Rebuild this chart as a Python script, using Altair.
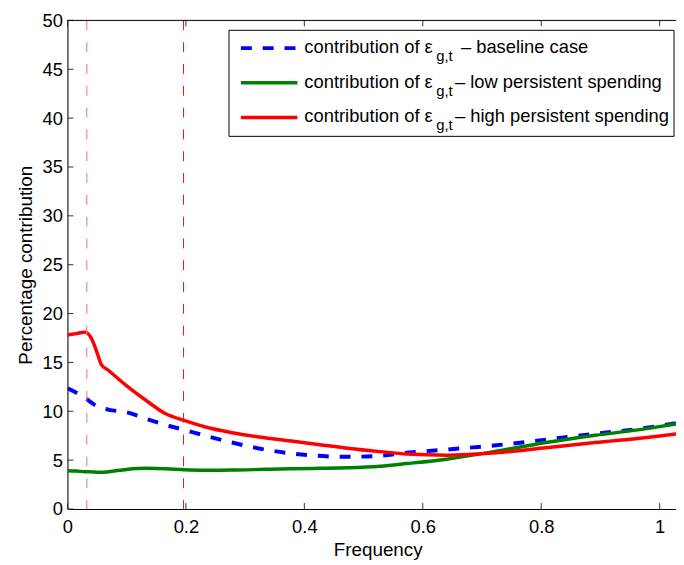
import altair as alt
import pandas as pd

# ---------------- data ----------------
freq = [0.0, 0.015, 0.03, 0.04, 0.05, 0.057, 0.07, 0.1, 0.133, 0.166, 0.197, 0.233,
        0.278, 0.333, 0.378, 0.423, 0.473, 0.528, 0.573, 0.64, 0.724, 0.808, 0.891,
        0.975, 1.031]
baseline_case = [12.35, 11.9, 11.35, 10.9, 10.5, 10.35, 10.15, 9.9, 9.23, 8.6, 8.1, 7.5,
                 6.8, 6.09, 5.68, 5.44, 5.34, 5.44, 5.75, 6.08, 6.52, 7.1, 7.7, 8.28, 8.82]
low_persistent = [3.92, 3.88, 3.82, 3.8, 3.77, 3.75, 3.82, 4.05, 4.16, 4.12, 4.02, 3.97,
                  3.98, 4.06, 4.12, 4.16, 4.22, 4.38, 4.65, 5.1, 5.91, 6.8, 7.54, 8.2, 8.72]
high_persistent = [17.8, 17.95, 18.1, 17.5, 16.0, 14.8, 14.15, 12.6, 11.1, 9.74, 9.06, 8.39,
                   7.81, 7.3, 6.95, 6.6, 6.22, 5.87, 5.62, 5.51, 5.75, 6.26, 6.8, 7.3, 7.7]

series_keys = ["baseline", "low", "high"]
legend_prefix = "contribution of ε"
legend_sub = "g,t"
legend_suffix = ["– baseline case", "– low persistent spending", "– high persistent spending"]

x_ticks = [0, 0.2, 0.4, 0.6, 0.8, 1.0]
y_ticks = [0, 5, 10, 15, 20, 25, 30, 35, 40, 45, 50]
v_lines = [0.0327, 0.196]

# ---------------- layout / style ----------------
W, H = 614, 493
XMAX = 1.0276
FONT = "Liberation Sans"
styles = {
    "baseline": dict(color="#0000ff", strokeWidth=4, strokeDash=[11, 11]),
    "low": dict(color="#008000", strokeWidth=3.5),
    "high": dict(color="#ff0000", strokeWidth=3.5),
}

xs = alt.Scale(domain=[0, XMAX], nice=False, zero=False)
ys = alt.Scale(domain=[0, 50], nice=False, zero=False)

x_axis = alt.Axis(values=x_ticks, format="~g", grid=False, ticks=False, tickSize=0,
                  labelPadding=24, labelBaseline="alphabetic", labelFontSize=18.5,
                  labelFont=FONT, labelColor="black", domainColor="black",
                  labelFlush=False, labelOverlap=False,
                  titleFont=FONT, titleFontSize=19, titleFontWeight="normal",
                  titleColor="black", titleBaseline="alphabetic",
                  titleY=47, titleX=313)
y_axis = alt.Axis(values=y_ticks, format="d", grid=False, ticks=False, tickSize=0,
                  labelPadding=5, labelBaseline="middle", labelFontSize=18.5,
                  labelFont=FONT, labelColor="black", domainColor="black",
                  labelFlush=False, labelOverlap=False,
                  titleFont=FONT, titleFontSize=19, titleFontWeight="normal",
                  titleColor="black", titleAngle=270, titleBaseline="alphabetic",
                  titleAlign="center", titleX=-36, titleY=H / 2)


def X(field):
    return alt.X(f"{field}:Q", scale=xs, axis=x_axis, title="Frequency")


def Y(field):
    return alt.Y(f"{field}:Q", scale=ys, axis=y_axis, title="Percentage contribution")


layers = []

# data lines
for key, vals in zip(series_keys, [baseline_case, low_persistent, high_persistent]):
    d = pd.DataFrame({"f": freq, "v": vals})
    layers.append(
        alt.Chart(d).mark_line(clip=True, interpolate="monotone", **styles[key]).encode(
            x=X("f"), y=Y("v"))
    )

# vertical dashed reference lines
vl_colors = ["#f07070", "#d81818"]
for i, f in enumerate(v_lines):
    layers.append(
        alt.Chart(pd.DataFrame({"f": [f]})).mark_rule(
            color=vl_colors[i], strokeWidth=1, strokeDash=[10, 12]
        ).encode(x=X("f"))
    )

# inward ticks and top frame
yt = pd.DataFrame({"v": y_ticks})
xt = pd.DataFrame({"f": x_ticks})
layers.append(alt.Chart(yt).mark_rule(color="#333", strokeWidth=1).encode(
    y=Y("v"), x=alt.value(0), x2=alt.value(6)))
layers.append(alt.Chart(xt).mark_rule(color="#333", strokeWidth=1).encode(
    x=X("f"), y=alt.value(H), y2=alt.value(H - 6)))
layers.append(alt.Chart(xt).mark_rule(color="#333", strokeWidth=1).encode(
    x=X("f"), y=alt.value(0), y2=alt.value(6)))
one = pd.DataFrame({"a": [0]})
layers.append(alt.Chart(one).mark_rule(color="black", strokeWidth=1).encode(
    x=alt.value(0), x2=alt.value(W), y=alt.value(0)))

# legend (drawn manually because of the subscript)
layers.append(alt.Chart(one).mark_rect(fill="white", stroke="black", strokeWidth=1).encode(
    x=alt.value(163), x2=alt.value(612), y=alt.value(10), y2=alt.value(117)))
row_y = [28, 63, 98]
suffix_x = [397, 391, 391]
for i, key in enumerate(series_keys):
    cy = row_y[i]
    layers.append(alt.Chart(one).mark_rule(**styles[key]).encode(
        x=alt.value(175), x2=alt.value(232), y=alt.value(cy)))
    layers.append(alt.Chart(one).mark_text(align="left", baseline="alphabetic", font=FONT,
                                           fontSize=18.5, color="black").encode(
        x=alt.value(239), y=alt.value(cy + 5), text=alt.value(legend_prefix)))
    layers.append(alt.Chart(one).mark_text(align="left", baseline="alphabetic", font=FONT,
                                           fontSize=15, color="black").encode(
        x=alt.value(372), y=alt.value(cy + 13), text=alt.value(legend_sub)))
    layers.append(alt.Chart(one).mark_text(align="left", baseline="alphabetic", font=FONT,
                                           fontSize=18.5, color="black").encode(
        x=alt.value(suffix_x[i]), y=alt.value(cy + 5), text=alt.value(legend_suffix[i])))

chart = alt.layer(*layers).properties(
    width=W, height=H,
    padding={"left": 60, "top": 10, "right": 0, "bottom": 54},
    autosize=alt.AutoSizeParams(type="none"),
).configure_view(stroke=None).configure(background="white")

chart.save("out.html", embed_options={"renderer": "svg", "actions": False})
